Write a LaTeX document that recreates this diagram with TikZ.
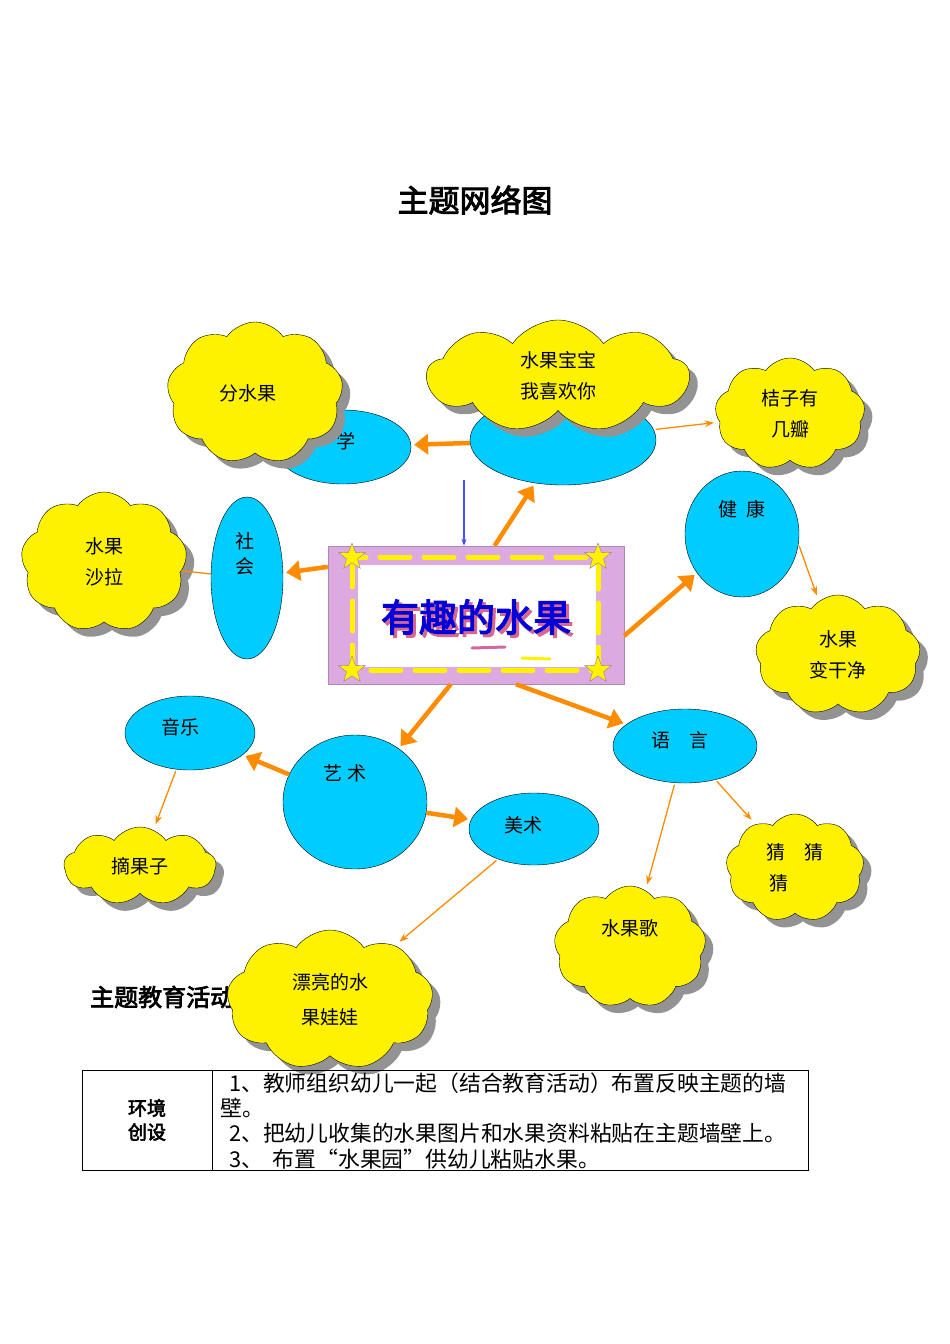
\documentclass[tikz,border=0pt]{standalone}
\usepackage{fontspec}
\setmainfont{Noto Sans CJK SC}
\newfontfamily\cjkb[FakeBold=3]{Noto Sans CJK SC}
\usetikzlibrary{shapes.symbols,shapes.geometric,shadows,arrows.meta}
\begin{document}
\begin{tikzpicture}[x=1pt,y=-1pt,
  bub/.style={ellipse,draw=black,fill=blubg,inner sep=0pt,font=\fontsize{19}{22}\selectfont},
  puff/.style={cloud,cloud puffs=9,cloud puff arc=110,cloud ignores aspect,draw=black,fill=yellow,inner sep=0pt,align=center,
     font=\fontsize{19}{31}\selectfont,drop shadow={shadow xshift=8pt,shadow yshift=-8pt,fill=gray!85,opacity=1}},
  big/.style={draw=orange!90!yellow,line width=4.5pt,-{Triangle[length=14pt,width=20pt]},shorten >=3pt},
  thin/.style={draw=orange!90!yellow,line width=1.3pt,-{Stealth[length=9pt]},shorten >=6pt,shorten <=2pt},
  txt/.style={anchor=west,inner sep=0pt,font=\fontsize{21.8}{24}\selectfont}]
\definecolor{blubg}{RGB}{0,204,255}
\definecolor{lila}{RGB}{220,170,225}
\useasboundingbox[fill=white] (0,0) rectangle (950,1344);
\node[font=\cjkb\fontsize{31}{36}\selectfont] (title) at (475,200) {主题网络图};
% ellipses
\node[bub,minimum width=136,minimum height=74] (shu) at (343,447) {};
\node[font=\fontsize{19}{22}\selectfont] (shut) at (346,441) {学};
\node[bub,minimum width=186,minimum height=90] (ke) at (563,440) {};
\node[bub,minimum width=114,minimum height=126] (jk) at (742,534) {};
\node[font=\fontsize{19}{22}\selectfont] (jkt) at (742,509) {健\ \ 康};
\node[bub,minimum width=72,minimum height=162] (sh) at (247,578) {};
\node[font=\fontsize{19}{25}\selectfont,align=center] (sht) at (245,554) {社\\会};
\node[bub,minimum width=130,minimum height=74] (yy) at (190,733) {};
\node[font=\fontsize{19}{22}\selectfont] (yyt) at (180,727) {音乐};
\node[bub,minimum width=144,minimum height=134] (ys) at (355,802) {};
\node[font=\fontsize{19}{22}\selectfont] (yst) at (345,773) {艺\ 术};
\node[bub,minimum width=130,minimum height=72] (ms) at (534,829) {};
\node[font=\fontsize{19}{22}\selectfont] (mst) at (523,825) {美术};
\node[bub,minimum width=144,minimum height=74] (yu) at (685,746) {};
\node[font=\fontsize{19}{22}\selectfont] (yut) at (680,740) {语\quad 言};
% center frame
\node[draw=lila!80!black,line width=0.4pt,fill=lila,minimum width=296,minimum height=138] (ctr) at (476,615) {};
\fill[white] (358,565) rectangle (596,667);
\draw[yellow,line width=5pt,dash pattern=on 30pt off 14pt,line cap=round] (352,557) rectangle (598,670);
\foreach \p in {(352,557),(598,557),(352,670),(598,670)}
  \node[star,star points=5,star point ratio=2.4,fill=yellow,draw=lila!70!black,minimum size=28,inner sep=0pt] at \p {};
\draw[lila!60!purple,line width=3pt,line cap=round] (472,648) -- (505,647);
\draw[yellow,line width=3pt,line cap=round] (522,658) -- (550,659);
\node[font=\cjkb\fontsize{38}{42}\selectfont,text=purple!60,inner sep=0pt] (ctrsh) at (479,620) {有趣的水果};
\node[font=\cjkb\fontsize{38}{42}\selectfont,text=blue!85!black,inner sep=0pt] (ctrtxt) at (476,617) {有趣的水果};
% arrows
\coordinate (bluetop) at (464,480);
\draw[blue!70,line width=1.5pt,-{Stealth[length=7pt]}] (bluetop) -- (ctr.north -| bluetop);
\draw[big] (ctr.162) -- (sh);
\draw[big] (ctr.75) -- (ke);
\draw[big] (ctr.-8) -- (jk);
\draw[big] (ctr.-110) -- (ys);
\draw[big] (ctr.-60) -- (yu);
\draw[big] (ke) -- (shu);
\draw[big] (ys) -- (yy);
\draw[big] (ys) -- (ms);
% clouds
\node[puff,minimum width=176,minimum height=142] (c1) at (255,393) {分水果\hspace{14pt}};
\node[puff,minimum width=262,minimum height=112] (c2) at (558,376) {水果宝宝\hspace{60pt}\\我喜欢你\hspace{60pt}};
\node[puff,minimum width=150,minimum height=112] (c3) at (790,414) {桔子有\\几瓣};
\node[puff,minimum width=165,minimum height=120] (c4) at (838,655) {水果\\变干净};
\node[puff,minimum width=166,minimum height=140] (c5) at (104,562) {水果\\沙拉};
\node[puff,minimum width=152,minimum height=78] (c6) at (140,866) {摘果子};
\node[puff,minimum width=152,minimum height=122] (c7) at (630,947) {水果歌\hspace{14pt}\\[8pt]};
\node[puff,minimum width=138,minimum height=108] (c8) at (795,868) {猜\quad 猜\\猜\quad\ \ \ \ };
\node[txt,font=\cjkb\fontsize{24}{28}\selectfont] (sect) at (90,997) {主题教育活动};
\node[puff,minimum width=206,minimum height=140,font=\fontsize{19}{35}\selectfont] (c9) at (330,1000) {漂亮的水\\果娃娃};
% thin arrows
\draw[thin] (ke) -- (c3);
\draw[thin] (jk.-10) -- (c4);
\draw[orange!90!yellow,line width=1.3pt] (sh) -- (c5);
\draw[thin] (yy) -- (c6);
\draw[thin] (ms) -- (c9);
\draw[thin] (yu) -- (c7);
\draw[thin] (yu) -- (c8);
% table
\node[draw=black,line width=0.6pt,minimum width=726,minimum height=100,anchor=north west,inner sep=0pt] (tab) at (82,1070) {};
\draw[line width=0.6pt] (tab.north west) ++(130,0) coordinate (cs) -- (cs |- tab.south);
\node[font=\cjkb\fontsize{19}{24}\selectfont,align=center] (env) at (147,1120) {环境\\创设};
\node[txt] (l1) at (229,1083) {1、教师组织幼儿一起（结合教育活动）布置反映主题的墙};
\node[txt] (l2) at (220,1108) {壁。};
\node[txt] (l3) at (229,1133) {2、把幼儿收集的水果图片和水果资料粘贴在主题墙壁上。};
\node[txt] (l4) at (229,1159) {3、\ \ 布置“水果园”供幼儿粘贴水果。};
\end{tikzpicture}
\end{document}
